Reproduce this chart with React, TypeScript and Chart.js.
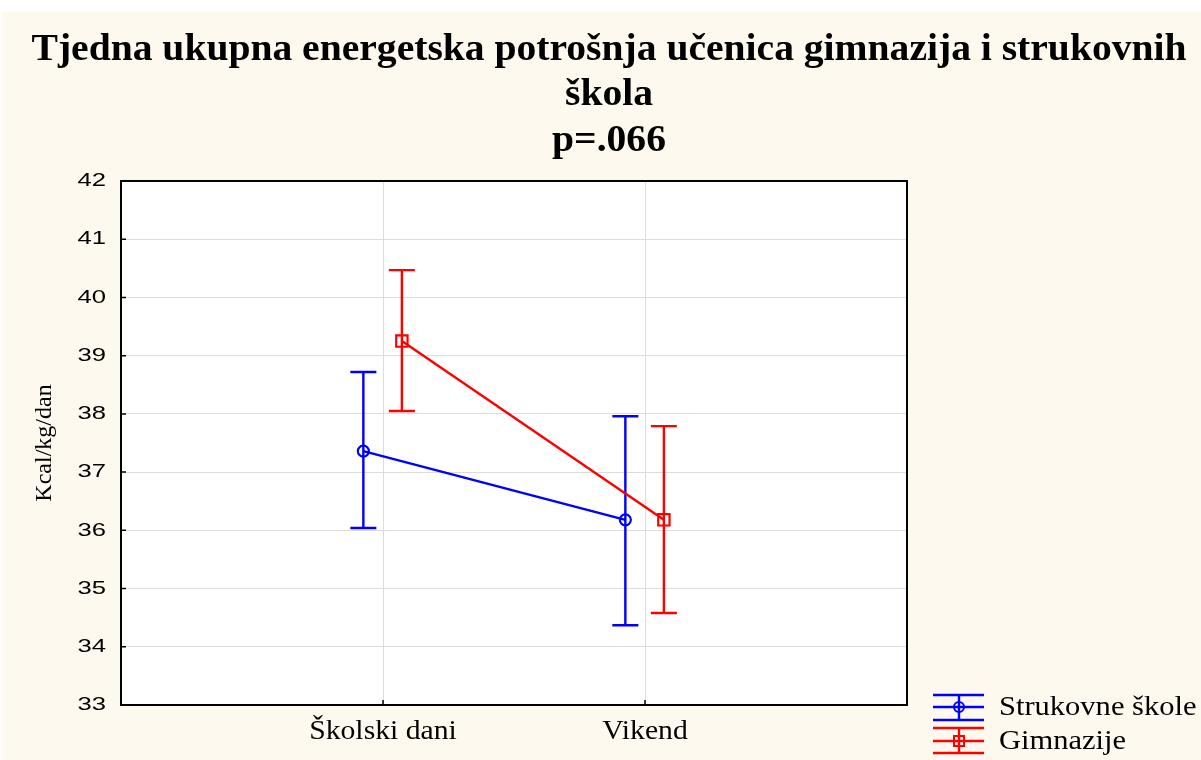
import React, { useEffect, useRef } from "react";
import { Chart, registerables } from "chart.js";

Chart.register(...registerables);

const categories = ["Školski dani", "Vikend"];
const seriesNames = ["Strukovne škole", "Gimnazije"];
const strukovneMean = [37.36, 36.18];
const strukovneUpper = [38.72, 37.96];
const strukovneLower = [36.04, 34.37];
const gimnazijeMean = [39.25, 36.18];
const gimnazijeUpper = [40.47, 37.79];
const gimnazijeLower = [38.05, 34.58];
const yTickValues = [33, 34, 35, 36, 37, 38, 39, 40, 41, 42];
const titleLines = [
  "Tjedna ukupna energetska potrošnja učenica gimnazija i strukovnih",
  "škola",
  "p=.066",
];
const yAxisTitle = "Kcal/kg/dan";

const BG = "#FDF9EE";
const BLUE = "#0000FF";
const RED = "#FF0000";
const GRID = "#DCDCDC";
const seriesColors = [BLUE, RED];
const seriesMarkers = ["circle", "rect"];
const seriesRadius = [5.5, 8];
const dodge = [-0.075, 0.072];
const LW = 2.4;

function stretchText(
  ctx: CanvasRenderingContext2D,
  text: string,
  x: number,
  y: number,
  font: string,
  sx: number,
  align: string,
  baseline: CanvasTextBaseline,
  color: string
) {
  ctx.save();
  ctx.font = font;
  ctx.fillStyle = color;
  ctx.textBaseline = baseline;
  ctx.textAlign = "left";
  const w = ctx.measureText(text).width * sx;
  const left = align === "center" ? x - w / 2 : align === "right" ? x - w : x;
  ctx.translate(left, y);
  ctx.scale(sx, 1);
  ctx.fillText(text, 0, 0);
  ctx.restore();
}

function drawMarker(ctx: CanvasRenderingContext2D, kind: string, x: number, y: number, color: string) {
  ctx.save();
  ctx.strokeStyle = color;
  ctx.lineWidth = 2;
  ctx.beginPath();
  if (kind === "circle") {
    ctx.arc(x, y, 5, 0, Math.PI * 2);
  } else {
    ctx.rect(x - 5, y - 5, 10, 10);
  }
  ctx.stroke();
  ctx.restore();
}

const customPlugin = {
  id: "customDraw",
  beforeDraw(chart: any) {
    const { ctx, chartArea, width, height } = chart;
    ctx.save();
    ctx.fillStyle = BG;
    ctx.fillRect(0, 0, width, height);
    ctx.fillStyle = "#FFFFFF";
    ctx.fillRect(chartArea.left, chartArea.top, chartArea.right - chartArea.left, chartArea.bottom - chartArea.top);
    ctx.restore();
  },
  beforeDatasetsDraw(chart: any) {
    const { ctx } = chart;
    const xs = chart.scales.x;
    const ys = chart.scales.y;
    chart.data.datasets.forEach((ds: any) => {
      ctx.save();
      ctx.strokeStyle = ds.borderColor;
      ctx.lineWidth = LW;
      ds.data.forEach((pt: any, i: number) => {
        const px = xs.getPixelForValue(pt.x);
        const yHi = ys.getPixelForValue(ds.errHigh[i]);
        const yLo = ys.getPixelForValue(ds.errLow[i]);
        const cap = 13;
        ctx.beginPath();
        ctx.moveTo(px, yHi);
        ctx.lineTo(px, yLo);
        ctx.moveTo(px - cap, yHi);
        ctx.lineTo(px + cap, yHi);
        ctx.moveTo(px - cap, yLo);
        ctx.lineTo(px + cap, yLo);
        ctx.stroke();
      });
      ctx.restore();
    });
  },
  afterDraw(chart: any) {
    const { ctx, chartArea } = chart;
    const { left, right, top, bottom } = chartArea;
    const xs = chart.scales.x;
    const ys = chart.scales.y;

    // frame
    ctx.save();
    ctx.strokeStyle = "#000";
    ctx.lineWidth = 2;
    ctx.strokeRect(left, top, right - left, bottom - top);
    // inner tick marks
    ctx.lineWidth = 1.5;
    ctx.beginPath();
    ys.ticks.forEach((t: any) => {
      const y = ys.getPixelForValue(t.value);
      ctx.moveTo(left, y);
      ctx.lineTo(left + 5, y);
    });
    xs.ticks.forEach((t: any) => {
      const x = xs.getPixelForValue(t.value);
      ctx.moveTo(x, bottom);
      ctx.lineTo(x, bottom - 5);
    });
    ctx.stroke();
    ctx.restore();

    // y tick labels
    ys.ticks.forEach((t: any) => {
      const y = ys.getPixelForValue(t.value);
      stretchText(ctx, String(t.value), left - 15, y, "19px 'Liberation Sans', Arial, sans-serif", 1.35, "right", "middle", "#000");
    });
    // x tick labels
    xs.ticks.forEach((t: any) => {
      const x = xs.getPixelForValue(t.value);
      stretchText(ctx, categories[t.value - 1], x, bottom + 34, "27px 'Liberation Serif', 'Times New Roman', serif", 1.1, "center", "alphabetic", "#000");
    });

    // y axis title
    ctx.save();
    ctx.translate(43, (top + bottom) / 2 + 0);
    ctx.rotate(-Math.PI / 2);
    stretchText(ctx, yAxisTitle, 0, 0, "24px 'Liberation Serif', 'Times New Roman', serif", 1.0, "center", "middle", "#000");
    ctx.restore();

    // title
    const tFont = "bold 38px 'Liberation Serif', 'Times New Roman', serif";
    ctx.save();
    ctx.font = tFont;
    const m = ctx.measureText(titleLines[0]).width;
    ctx.restore();
    const tsx = 1155 / m;
    const baselines = [48, 93, 139];
    titleLines.forEach((line, i) => {
      stretchText(ctx, line, 607, baselines[i], tFont, tsx, "center", "alphabetic", "#000");
    });

    // legend
    const lx0 = 931, lx1 = 982, lxc = 957;
    const legendRows = [
      { top: 683, mid: 695, bot: 708 },
      { top: 716, mid: 729, bot: 741 },
    ];
    legendRows.forEach((r, i) => {
      const c = seriesColors[i];
      ctx.save();
      ctx.strokeStyle = c;
      ctx.lineWidth = LW;
      ctx.beginPath();
      [r.top, r.mid, r.bot].forEach((yy) => {
        ctx.moveTo(lx0, yy);
        ctx.lineTo(lx1, yy);
      });
      ctx.moveTo(lxc, r.top);
      ctx.lineTo(lxc, r.bot);
      ctx.stroke();
      ctx.restore();
      drawMarker(ctx, seriesMarkers[i], lxc, r.mid, c);
      stretchText(ctx, seriesNames[i], 997, r.mid + 1, "27px 'Liberation Serif', 'Times New Roman', serif", 1.13, "left", "middle", "#000");
    });
  },
};

export default function App() {
  const canvasRef = useRef<HTMLCanvasElement | null>(null);

  useEffect(() => {
    document.body.style.margin = "0";
    const canvas = canvasRef.current;
    if (!canvas) return;
    const means = [strukovneMean, gimnazijeMean];
    const uppers = [strukovneUpper, gimnazijeUpper];
    const lowers = [strukovneLower, gimnazijeLower];
    const datasets = seriesNames.map((name, s) => ({
      label: name,
      data: means[s].map((v, i) => ({ x: i + 1 + dodge[s], y: v })),
      errHigh: uppers[s],
      errLow: lowers[s],
      borderColor: seriesColors[s],
      borderWidth: LW,
      pointStyle: seriesMarkers[s],
      pointRadius: seriesRadius[s],
      pointBorderWidth: 2.2,
      pointBorderColor: seriesColors[s],
      pointBackgroundColor: "rgba(0,0,0,0)",
      fill: false,
      tension: 0,
    }));

    const chart = new Chart(canvas, {
      type: "line",
      data: { datasets } as any,
      options: {
        animation: false,
        responsive: false,
        maintainAspectRatio: false,
        layout: { padding: { top: 169, right: 294, left: 0, bottom: 0 } },
        plugins: {
          legend: { display: false },
          title: { display: false },
          tooltip: { enabled: false },
        },
        scales: {
          x: {
            type: "linear",
            min: 0,
            max: 3,
            afterBuildTicks: (axis: any) => {
              axis.ticks = categories.map((_, i) => ({ value: i + 1 }));
            },
            afterFit: (axis: any) => {
              axis.height = 55;
            },
            ticks: { display: false },
            grid: { color: GRID, lineWidth: 1, drawTicks: false },
            border: { display: false },
          },
          y: {
            type: "linear",
            min: 33,
            max: 42,
            afterBuildTicks: (axis: any) => {
              axis.ticks = yTickValues.map((v) => ({ value: v }));
            },
            afterFit: (axis: any) => {
              axis.width = 119;
            },
            ticks: { display: false },
            grid: { color: GRID, lineWidth: 1, drawTicks: false },
            border: { display: false },
          },
        },
      } as any,
      plugins: [customPlugin],
    });
    return () => chart.destroy();
  }, []);

  return (
    <div style={{ background: "#FFFFFF", paddingTop: 12, paddingLeft: 2, width: 1201, height: 760, boxSizing: "border-box" }}>
      <canvas ref={canvasRef} width={1199} height={748} style={{ display: "block", width: 1199, height: 748 }} />
    </div>
  );
}
